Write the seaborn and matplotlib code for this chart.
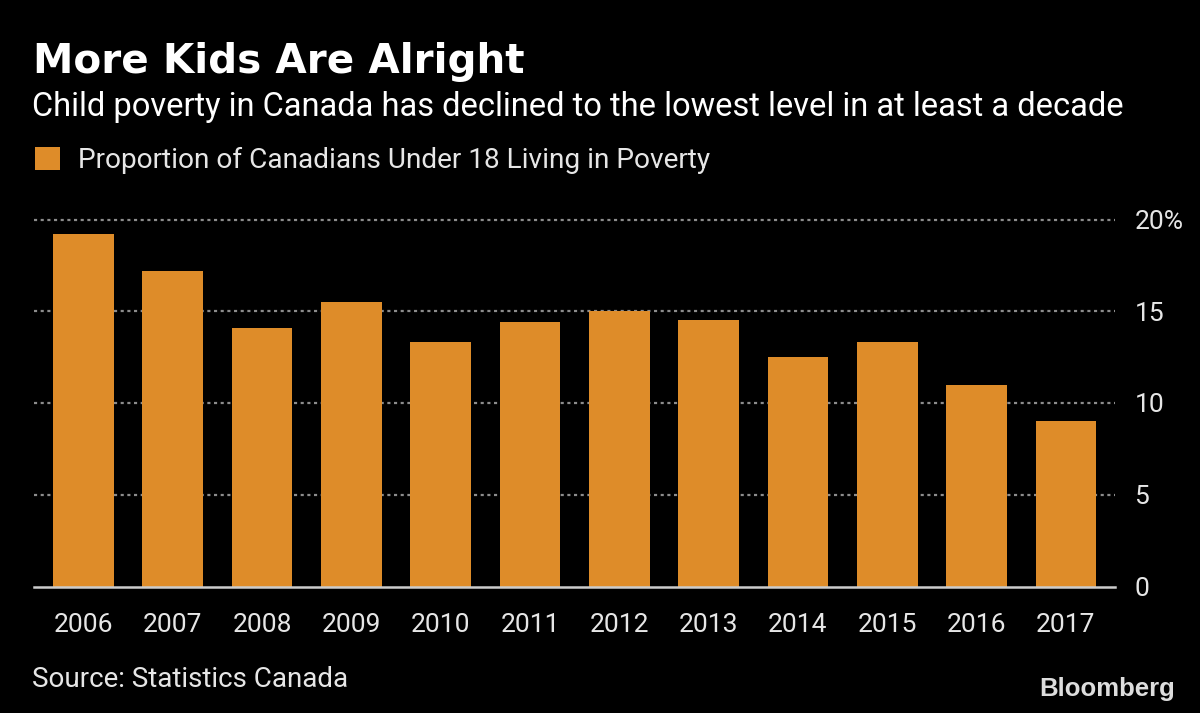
import matplotlib
matplotlib.use("Agg")
import matplotlib.pyplot as plt
import seaborn as sns
import pandas as pd
from matplotlib.patches import Patch

years = ["2006", "2007", "2008", "2009", "2010", "2011", "2012", "2013", "2014", "2015", "2016", "2017"]
values = [19.2, 17.2, 14.1, 15.5, 13.3, 14.4, 15.0, 14.5, 12.5, 13.3, 11.0, 9.0]
series_name = "Proportion of Canadians Under 18 Living in Poverty"
ytick_vals = [0, 5, 10, 15, 20]
ytick_labels = ["0", "5", "10", "15", "20%"]

title = "More Kids Are Alright"
subtitle = "Child poverty in Canada has declined to the lowest level in at least a decade"
source = "Source: Statistics Canada"

BAR = "#DE8C29"
TXT = "#E6E6E6"
FONT = ["Roboto", "DejaVu Sans"]

sns.set_theme(style="dark")
plt.rcParams["font.family"] = FONT

df = pd.DataFrame({"year": years, "value": values, "series": series_name})

fig = plt.figure(figsize=(12, 7.13), dpi=100, facecolor="black")
px_per_unit = 18.35
ymax = 20.6
ax_h = px_per_unit * ymax / 713
ax_bottom = 126.5 / 713
ax = fig.add_axes([34 / 1200, ax_bottom, 1081 / 1200, ax_h])
ax.set_facecolor("black")

sns.barplot(data=df, x="year", y="value", color=BAR, width=0.68, ax=ax,
            saturation=1, edgecolor="none", linewidth=0, zorder=3)

ax.set_xlim(-0.554, 11.55)
ax.set_ylim(0, ymax)
ax.set_xlabel("")
ax.set_ylabel("")

ax.yaxis.tick_right()
ax.set_yticks(ytick_vals)
ax.set_yticklabels(ytick_labels)
ax.tick_params(axis="y", length=0, pad=14, labelsize=19, labelcolor=TXT)
ax.tick_params(axis="x", length=7, width=1.5, color="#CCCCCC", direction="out",
               pad=12, labelsize=19, labelcolor=TXT)

for v in ytick_vals[1:]:
    ax.axhline(v, color="#8C8C8C", lw=1.6, ls=(0, (1.4, 1.6)), zorder=1, clip_on=False)

for s in ["top", "right", "left"]:
    ax.spines[s].set_visible(False)
ax.spines["bottom"].set_color("#CCCCCC")
ax.spines["bottom"].set_linewidth(1.8)
ax.spines["bottom"].set_zorder(4)
ax.grid(False)

fig.text(33 / 1200, 1 - 73 / 713, title, color="white", fontsize=29.2, fontweight="bold",
         family=["DejaVu Sans"], va="baseline", ha="left")
fig.text(32 / 1200, 1 - 116 / 713, subtitle, color="white", fontsize=23.5,
         va="baseline", ha="left")

leg = fig.legend(handles=[Patch(facecolor=BAR, edgecolor="none", label=series_name)],
                 loc="upper left", bbox_to_anchor=(35 / 1200, 1 - 147 / 713),
                 frameon=False, fontsize=20.2, handlelength=0.9, handleheight=0.9,
                 handletextpad=0.62, borderpad=0, borderaxespad=0)
for t in leg.get_texts():
    t.set_color(TXT)

fig.text(32 / 1200, 1 - 687 / 713, source, color=TXT, fontsize=20, va="baseline", ha="left")
fig.text(1175 / 1200, 1 - 696 / 713, "Bloomberg", color="#DDDDDD", fontsize=18.5,
         fontweight="bold", family=["Liberation Sans", "DejaVu Sans"],
         va="baseline", ha="right")

fig.savefig("out.png", dpi=100, facecolor="black")
